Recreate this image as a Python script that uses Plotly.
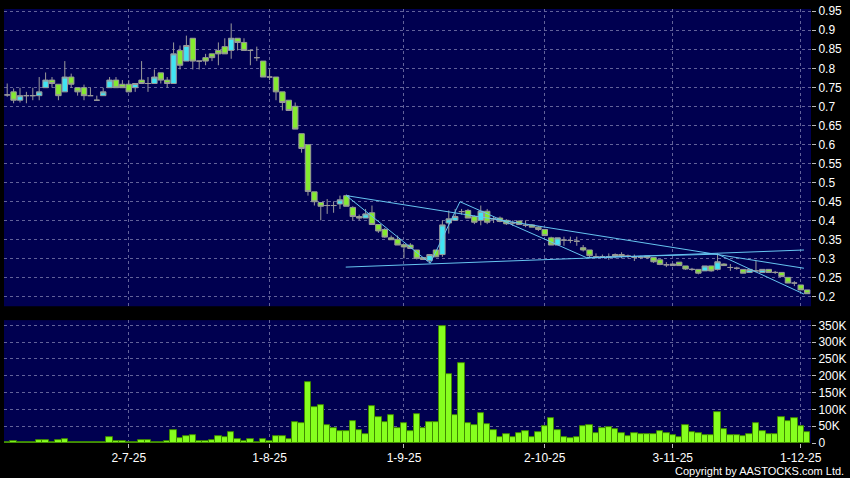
import pandas as pd
import plotly.graph_objects as go
from plotly.subplots import make_subplots

# ---- trading days (HK calendar) ----
holidays = ["2025-07-01", "2025-10-01", "2025-10-07", "2025-10-29"]
dates = [d.strftime("%Y-%m-%d") for d in pd.bdate_range("2025-06-04", "2025-12-02")
         if d.strftime("%Y-%m-%d") not in holidays]

# ---- OHLC ----
open_ = [0.730, 0.738, 0.716, 0.728, 0.728, 0.728, 0.749, 0.769, 0.758, 0.738,
         0.777, 0.749, 0.749, 0.728, 0.716, 0.728, 0.749, 0.769, 0.758, 0.758,
         0.749, 0.769, 0.760, 0.760, 0.788, 0.769, 0.760, 0.847, 0.819, 0.879,
         0.819, 0.828, 0.838, 0.847, 0.857, 0.847, 0.879, 0.868, 0.847, 0.828,
         0.819, 0.777, 0.777, 0.738, 0.716, 0.700, 0.628, 0.599, 0.475, 0.447,
         0.439, 0.439, 0.443, 0.465, 0.434, 0.410, 0.406, 0.420, 0.389, 0.376,
         0.354, 0.350, 0.336, 0.335, 0.322, 0.302, 0.294, 0.322, 0.310, 0.393,
         0.400, 0.423, 0.426, 0.410, 0.400, 0.424, 0.404, 0.406, 0.400, 0.393,
         0.398, 0.387, 0.388, 0.382, 0.376, 0.354, 0.335, 0.348, 0.347, 0.345,
         0.328, 0.322, 0.304, 0.304, 0.304, 0.310, 0.310, 0.306, 0.303, 0.303,
         0.306, 0.302, 0.296, 0.283, 0.281, 0.290, 0.280, 0.271, 0.271, 0.267,
         0.280, 0.271, 0.285, 0.276, 0.274, 0.271, 0.263, 0.267, 0.263, 0.271,
         0.263, 0.263, 0.250, 0.235, 0.230, 0.217]
high = [0.760, 0.747, 0.749, 0.738, 0.749, 0.777, 0.789, 0.777, 0.758, 0.819,
        0.786, 0.749, 0.757, 0.749, 0.728, 0.749, 0.777, 0.777, 0.769, 0.769,
        0.760, 0.819, 0.777, 0.797, 0.788, 0.777, 0.868, 0.860, 0.886, 0.879,
        0.819, 0.838, 0.838, 0.868, 0.879, 0.918, 0.879, 0.879, 0.847, 0.857,
        0.819, 0.797, 0.777, 0.738, 0.716, 0.710, 0.628, 0.599, 0.475, 0.447,
        0.456, 0.450, 0.465, 0.468, 0.437, 0.415, 0.430, 0.439, 0.389, 0.380,
        0.360, 0.360, 0.336, 0.340, 0.322, 0.302, 0.310, 0.322, 0.400, 0.426,
        0.430, 0.430, 0.430, 0.413, 0.439, 0.430, 0.410, 0.410, 0.403, 0.400,
        0.400, 0.400, 0.390, 0.385, 0.376, 0.357, 0.354, 0.357, 0.357, 0.357,
        0.335, 0.322, 0.313, 0.310, 0.313, 0.313, 0.316, 0.310, 0.310, 0.307,
        0.306, 0.302, 0.296, 0.290, 0.287, 0.290, 0.280, 0.275, 0.271, 0.280,
        0.280, 0.313, 0.287, 0.285, 0.278, 0.271, 0.271, 0.293, 0.271, 0.271,
        0.267, 0.263, 0.250, 0.240, 0.230, 0.217]
low = [0.725, 0.708, 0.710, 0.708, 0.716, 0.716, 0.749, 0.749, 0.716, 0.738,
       0.749, 0.728, 0.716, 0.728, 0.716, 0.728, 0.749, 0.749, 0.749, 0.738,
       0.738, 0.760, 0.738, 0.760, 0.760, 0.749, 0.760, 0.797, 0.819, 0.797,
       0.797, 0.808, 0.819, 0.808, 0.838, 0.825, 0.847, 0.847, 0.808, 0.819,
       0.777, 0.769, 0.716, 0.689, 0.689, 0.640, 0.578, 0.465, 0.439, 0.400,
       0.417, 0.420, 0.430, 0.437, 0.400, 0.400, 0.406, 0.389, 0.367, 0.354,
       0.349, 0.335, 0.300, 0.326, 0.297, 0.297, 0.288, 0.304, 0.304, 0.365,
       0.400, 0.415, 0.406, 0.390, 0.387, 0.390, 0.393, 0.395, 0.388, 0.385,
       0.389, 0.382, 0.382, 0.372, 0.360, 0.335, 0.335, 0.333, 0.340, 0.333,
       0.318, 0.300, 0.300, 0.300, 0.296, 0.300, 0.300, 0.300, 0.293, 0.298,
       0.298, 0.288, 0.282, 0.277, 0.280, 0.280, 0.270, 0.267, 0.258, 0.267,
       0.265, 0.268, 0.281, 0.267, 0.270, 0.261, 0.263, 0.263, 0.263, 0.263,
       0.259, 0.252, 0.235, 0.227, 0.217, 0.207]
close = [0.730, 0.716, 0.728, 0.728, 0.728, 0.738, 0.769, 0.760, 0.728, 0.777,
         0.758, 0.738, 0.728, 0.728, 0.716, 0.738, 0.769, 0.749, 0.749, 0.738,
         0.760, 0.760, 0.760, 0.777, 0.769, 0.760, 0.838, 0.808, 0.860, 0.819,
         0.819, 0.819, 0.828, 0.838, 0.838, 0.879, 0.868, 0.847, 0.847, 0.828,
         0.777, 0.777, 0.738, 0.710, 0.689, 0.640, 0.589, 0.476, 0.449, 0.437,
         0.439, 0.439, 0.454, 0.437, 0.410, 0.406, 0.417, 0.389, 0.372, 0.356,
         0.349, 0.335, 0.330, 0.326, 0.300, 0.297, 0.310, 0.304, 0.388, 0.404,
         0.410, 0.423, 0.406, 0.395, 0.424, 0.395, 0.404, 0.397, 0.391, 0.393,
         0.389, 0.387, 0.382, 0.376, 0.360, 0.335, 0.354, 0.348, 0.347, 0.345,
         0.322, 0.307, 0.304, 0.304, 0.304, 0.305, 0.305, 0.306, 0.303, 0.303,
         0.302, 0.291, 0.284, 0.283, 0.285, 0.281, 0.272, 0.271, 0.261, 0.280,
         0.267, 0.291, 0.281, 0.276, 0.274, 0.261, 0.271, 0.267, 0.271, 0.263,
         0.263, 0.252, 0.235, 0.235, 0.217, 0.207]

# ---- volume (shares) ----
volume = [3000, 7000, 3000, 3000, 2000, 10000, 10000, 4000, 8000, 13000,
          3000, 3000, 3000, 3000, 2000, 4000, 16000, 6000, 5000, 4000,
          4000, 9000, 8000, 4000, 4000, 5000, 39000, 14000, 21000, 22000,
          5000, 5000, 10000, 21000, 16000, 31000, 11000, 5000, 11000, 4000,
          13000, 6000, 20000, 20000, 11000, 62000, 60000, 181000, 107000, 113000,
          54000, 45000, 36000, 35000, 65000, 39000, 25000, 110000, 78000, 61000,
          82000, 45000, 60000, 36000, 85000, 45000, 61000, 63000, 348000, 204000,
          83000, 237000, 59000, 54000, 89000, 56000, 39000, 16000, 25000, 18000,
          28000, 36000, 18000, 33000, 50000, 75000, 39000, 18000, 15000, 18000,
          49000, 54000, 29000, 45000, 47000, 42000, 30000, 19000, 30000, 25000,
          25000, 27000, 35000, 28000, 24000, 18000, 53000, 33000, 29000, 24000,
          22000, 92000, 42000, 24000, 24000, 19000, 25000, 58000, 35000, 26000,
          27000, 78000, 65000, 73000, 51000, 32000]

# ---- axis ticks ----
tick_dates = ["2025-07-02", "2025-08-01", "2025-09-01", "2025-10-02", "2025-11-03", "2025-12-01"]
tick_labels = ["2-7-25", "1-8-25", "1-9-25", "2-10-25", "3-11-25", "1-12-25"]
price_ticks = [0.2, 0.25, 0.3, 0.35, 0.4, 0.45, 0.5, 0.55, 0.6, 0.65, 0.7, 0.75, 0.8, 0.85, 0.9, 0.95]
price_tick_labels = ["0.2", "0.25", "0.3", "0.35", "0.4", "0.45", "0.5", "0.55", "0.6", "0.65",
                     "0.7", "0.75", "0.8", "0.85", "0.9", "0.95"]
vol_ticks = [0, 50000, 100000, 150000, 200000, 250000, 300000, 350000]
vol_tick_labels = ["0", "50K", "100K", "150K", "200K", "250K", "300K", "350K"]

# ---- drawn trend lines (bar position, price) ----
zigzag_x = [53.0, 66.1, 70.75, 90.5, 111.0, 124.5]
zigzag_y = [0.465, 0.287, 0.449, 0.302, 0.311, 0.206]
upper_x = [53.0, 124.5]
upper_y = [0.465, 0.274]
lower_x = [52.9, 124.5]
lower_y = [0.277, 0.322]

x_idx = list(range(len(dates)))
tick_pos = [dates.index(d) for d in tick_dates]

GRID = "#62629a"
LINE_C = "#66c4f0"
FONT = dict(family="Liberation Sans, Arial, sans-serif", size=12, color="#ffffff")

fig = make_subplots(rows=2, cols=1, shared_xaxes=True)

fig.add_trace(go.Candlestick(
    x=x_idx, open=open_, high=high, low=low, close=close,
    increasing=dict(fillcolor="#40e4f4", line=dict(color="#9a9a9a", width=1)),
    decreasing=dict(fillcolor="#84ea30", line=dict(color="#9a9a9a", width=1)),
    whiskerwidth=0, hoverinfo="skip"), row=1, col=1)

for lx, ly in [(zigzag_x, zigzag_y), (upper_x, upper_y), (lower_x, lower_y)]:
    fig.add_trace(go.Scatter(x=lx, y=ly, mode="lines",
                             line=dict(color=LINE_C, width=1), hoverinfo="skip"),
                  row=1, col=1)

fig.add_trace(go.Bar(x=x_idx, y=volume,
                     marker=dict(color="#86ff1e", line=dict(color="#3f8a00", width=1)),
                     hoverinfo="skip"), row=2, col=1)

xr = [-0.5, 125.6]
fig.update_layout(
    width=850, height=478,
    margin=dict(l=4, r=39, t=5, b=35),
    paper_bgcolor="#000000", plot_bgcolor="#000050",
    showlegend=False, boxgap=0.15, boxgroupgap=0.0, bargap=0.0,
    font=FONT,
    xaxis=dict(range=xr, tickvals=tick_pos, showticklabels=False, ticks="",
               showgrid=True, gridcolor=GRID, griddash="3px,3px", gridwidth=1,
               zeroline=False, showline=False, rangeslider=dict(visible=False)),
    xaxis2=dict(range=xr, tickvals=tick_pos, ticktext=tick_labels, ticks="outside",
                ticklen=4, tickcolor="#bbbbbb", tickfont=FONT,
                showgrid=True, gridcolor=GRID, griddash="3px,3px", gridwidth=1,
                zeroline=False, showline=False),
    yaxis=dict(domain=[0.3151, 1.0], range=[0.174, 0.956], side="right",
               tickvals=price_ticks, ticktext=price_tick_labels, ticks="outside",
               ticklen=4, tickcolor="#bbbbbb", tickfont=FONT,
               showgrid=True, gridcolor=GRID, griddash="3px,3px", gridwidth=1,
               zeroline=False, showline=False),
    yaxis2=dict(domain=[0.0, 0.2831], range=[0, 365600], side="right",
                tickvals=vol_ticks, ticktext=vol_tick_labels, ticks="outside",
                ticklen=4, tickcolor="#bbbbbb", tickfont=FONT,
                showgrid=True, gridcolor=GRID, griddash="3px,3px", gridwidth=1,
                zeroline=False, showline=False),
)

fig.add_annotation(text="Copyright by AASTOCKS.com Ltd.", xref="paper", yref="paper",
                   x=1.0434, y=-0.064, xanchor="right", yanchor="middle", showarrow=False,
                   font=dict(family="Liberation Sans, Arial, sans-serif", size=11, color="#ffffff"))

fig.write_html("out.html", config={"displayModeBar": False},
               post_script="document.body.style.margin='0px';document.body.style.background='#000';")
